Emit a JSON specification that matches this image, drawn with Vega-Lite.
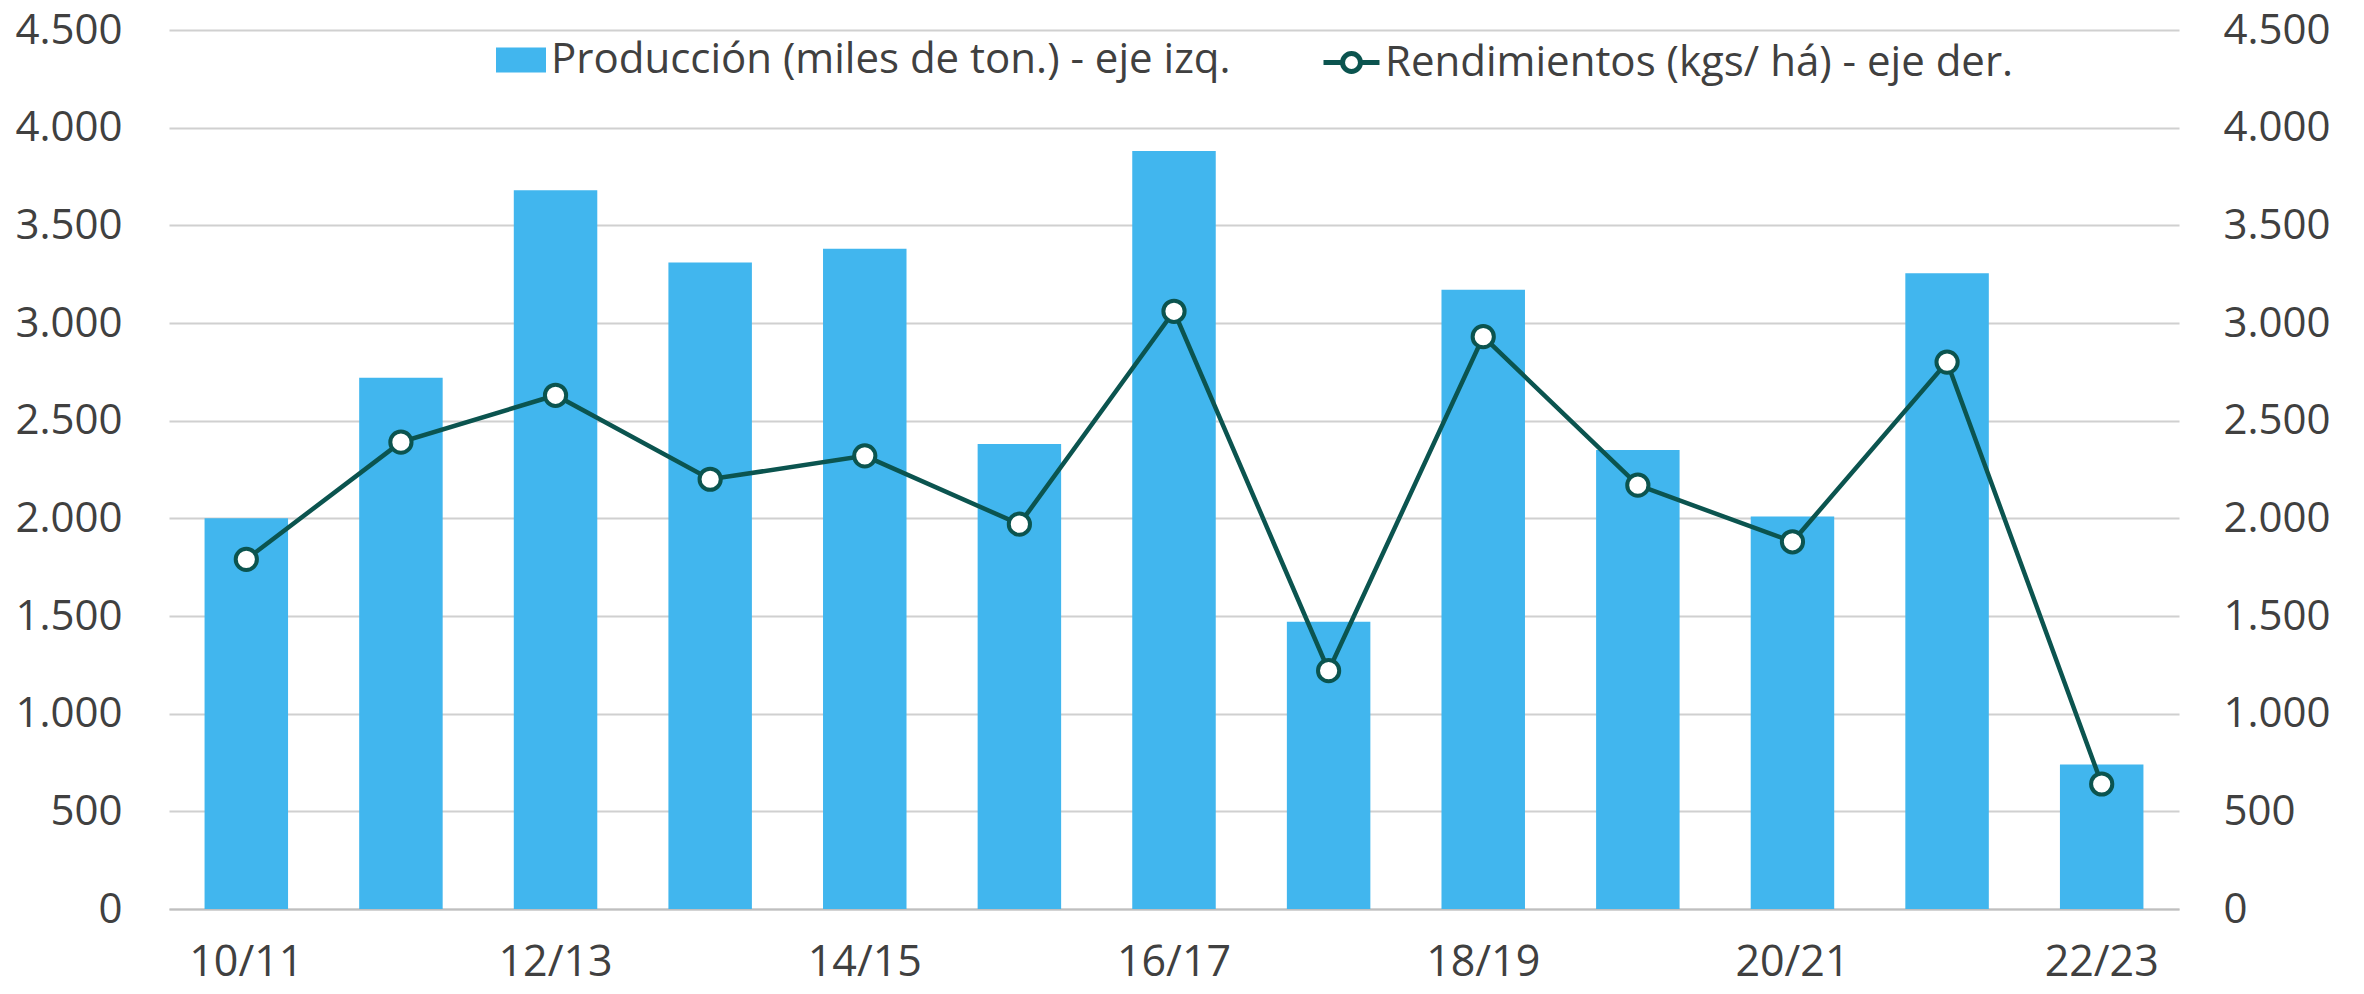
{
  "$schema": "https://vega.github.io/schema/vega-lite/v6.json",
  "autosize": {"type": "none"},
  "width": 2010,
  "height": 879,
  "padding": {"left": 169, "top": 30, "right": 185, "bottom": 85},
  "background": "white",
  "data": {"values": [
    {"campana": "10/11", "produccion": 2000, "rendimiento": 1790},
    {"campana": "11/12", "produccion": 2720, "rendimiento": 2390},
    {"campana": "12/13", "produccion": 3680, "rendimiento": 2630},
    {"campana": "13/14", "produccion": 3310, "rendimiento": 2200},
    {"campana": "14/15", "produccion": 3380, "rendimiento": 2320},
    {"campana": "15/16", "produccion": 2380, "rendimiento": 1970},
    {"campana": "16/17", "produccion": 3880, "rendimiento": 3060},
    {"campana": "17/18", "produccion": 1470, "rendimiento": 1220},
    {"campana": "18/19", "produccion": 3170, "rendimiento": 2930},
    {"campana": "19/20", "produccion": 2350, "rendimiento": 2170},
    {"campana": "20/21", "produccion": 2010, "rendimiento": 1880},
    {"campana": "21/22", "produccion": 3255, "rendimiento": 2800},
    {"campana": "22/23", "produccion": 740, "rendimiento": 640}
  ]},
  "encoding": {
    "x": {
      "field": "campana", "type": "nominal", "sort": null,
      "scale": {"paddingInner": 0.46, "paddingOuter": 0.23},
      "axis": {
        "title": null, "labelAngle": 0,
        "values": ["10/11", "12/13", "14/15", "16/17", "18/19", "20/21", "22/23"],
        "ticks": false, "domain": true, "domainColor": "#BFBFBF", "domainWidth": 2,
        "labelPadding": 32, "labelFontSize": 43, "labelColor": "#404040", "labelFont": "Open Sans"
      }
    }
  },
  "layer": [
    {
      "mark": {"type": "bar", "color": "#41B6EE"},
      "encoding": {
        "y": {
          "field": "produccion", "type": "quantitative",
          "scale": {"domain": [0, 4500], "nice": false},
          "axis": {
            "title": null, "orient": "left", "values": [0, 500, 1000, 1500, 2000, 2500, 3000, 3500, 4000, 4500],
            "labelExpr": "replace(format(datum.value, ','), ',', '.')",
            "domain": false, "ticks": false, "grid": true, "gridColor": "#D0D0D0", "gridWidth": 2,
            "labelPadding": 47, "labelFontSize": 42, "labelColor": "#404040", "labelFont": "Open Sans"
          }
        },
        "fill": {
          "datum": "Producción (miles de ton.) - eje izq.",
          "scale": {"range": ["#41B6EE"]},
          "legend": {
            "title": null, "orient": "none", "legendX": 327, "legendY": 5,
            "symbolType": "M -1 -0.5 L 1 -0.5 L 1 0.5 L -1 0.5 Z", "symbolSize": 2500, "symbolStrokeWidth": 0,
            "labelFontSize": 42, "labelColor": "#404040", "labelFont": "Open Sans", "labelOffset": 5, "labelLimit": 0
          }
        }
      }
    },
    {
      "encoding": {
        "y": {
          "field": "rendimiento", "type": "quantitative",
          "scale": {"domain": [0, 4500], "nice": false},
          "axis": {
            "title": null, "orient": "right", "values": [0, 500, 1000, 1500, 2000, 2500, 3000, 3500, 4000, 4500],
            "labelExpr": "replace(format(datum.value, ','), ',', '.')",
            "domain": false, "ticks": false, "grid": false,
            "labelPadding": 44, "labelFontSize": 42, "labelColor": "#404040", "labelFont": "Open Sans"
          }
        }
      },
      "layer": [
        {
          "mark": {"type": "line", "strokeWidth": 4.5},
          "encoding": {
            "stroke": {
              "datum": "Rendimientos (kgs/ há) - eje der.",
              "scale": {"range": ["#0B544F"]},
              "legend": {
                "title": null, "orient": "none", "legendX": 1152, "legendY": 2,
                "symbolType": "M -1 0 L -0.32 0 M 1 0 L 0.32 0 M 0.32 0 A 0.32 0.32 0 1 1 -0.32 0 A 0.32 0.32 0 1 1 0.32 0 Z",
                "symbolSize": 3136, "symbolStrokeWidth": 5, "symbolFillColor": "white",
                "labelFontSize": 42, "labelColor": "#404040", "labelFont": "Open Sans", "labelOffset": 3, "labelLimit": 0
              }
            }
          }
        },
        {
          "mark": {"type": "point", "shape": "circle", "filled": true, "fill": "white", "stroke": "#0B544F", "strokeWidth": 4, "size": 450, "opacity": 1}
        }
      ]
    }
  ],
  "resolve": {"scale": {"y": "independent"}},
  "config": {"view": {"stroke": null}}
}
